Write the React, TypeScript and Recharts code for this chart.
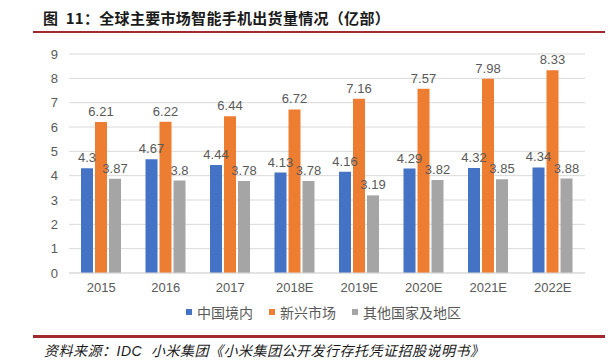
import { BarChart, Bar, XAxis, YAxis, CartesianGrid, LabelList } from "recharts";

const YEARS = ["2015", "2016", "2017", "2018E", "2019E", "2020E", "2021E", "2022E"];
const CHINA = [4.3, 4.67, 4.44, 4.13, 4.16, 4.29, 4.32, 4.34];
const EMERGING = [6.21, 6.22, 6.44, 6.72, 7.16, 7.57, 7.98, 8.33];
const OTHERS = [3.87, 3.8, 3.78, 3.78, 3.19, 3.82, 3.85, 3.88];
const Y_TICKS = [0, 1, 2, 3, 4, 5, 6, 7, 8, 9];

const SERIES = [
  { key: "china", name: "中国境内", color: "#4472C4" },
  { key: "emerging", name: "新兴市场", color: "#ED7D31" },
  { key: "others", name: "其他国家及地区", color: "#A5A5A5" },
];

const chartData = YEARS.map((year, i) => ({
  year,
  china: CHINA[i],
  emerging: EMERGING[i],
  others: OTHERS[i],
}));

const TEXT_GRAY = "#595959";
const RULE_RED = "#A2292D";
const LABEL_FONT = "'Liberation Sans', Arial, sans-serif";
const CJK_FONT = "'Noto Sans CJK SC', 'Noto Sans', sans-serif";

export default function App() {
  return (
    <div
      style={{
        position: "fixed",
        top: 0,
        left: 0,
        width: 614,
        height: 364,
        background: "#fff",
        overflow: "hidden",
      }}
    >
      {/* title */}
      <div
        style={{
          position: "absolute",
          left: 43,
          top: 7,
          fontFamily: CJK_FONT,
          fontWeight: 700,
          fontSize: 15,
          letterSpacing: 0.3,
          lineHeight: "22px",
          color: "#1a1a1a",
          whiteSpace: "nowrap",
        }}
      >
        图&nbsp;&nbsp;11：全球主要市场智能手机出货量情况（亿部）
      </div>
      <div style={{ position: "absolute", left: 33, top: 31, width: 572, height: 2, background: RULE_RED }} />

      <div style={{ position: "absolute", left: 0, top: 0 }}>
        <BarChart
          width={614}
          height={300}
          data={chartData}
          margin={{ top: 54, right: 29, left: 0, bottom: 0 }}
          barSize={12}
          barGap={2}
        >
          <CartesianGrid vertical={false} stroke="#D9D9D9" />
          <XAxis
            dataKey="year"
            height={27}
            axisLine={{ stroke: "#D9D9D9" }}
            tickLine={false}
            tickMargin={4}
            tick={{ fill: TEXT_GRAY, fontSize: 13, fontFamily: LABEL_FONT }}
          />
          <YAxis
            width={69}
            domain={[0, 9]}
            ticks={Y_TICKS}
            axisLine={false}
            tickLine={false}
            tickMargin={5}
            tick={{ fill: TEXT_GRAY, fontSize: 13, fontFamily: LABEL_FONT }}
          />
          {SERIES.map((s) => (
            <Bar key={s.key} dataKey={s.key} name={s.name} fill={s.color} isAnimationActive={false}>
              <LabelList
                dataKey={s.key}
                position="top"
                offset={6}
                fill={TEXT_GRAY}
                fontSize={13}
                fontFamily={LABEL_FONT}
              />
            </Bar>
          ))}
        </BarChart>
      </div>

      {/* legend */}
      <div
        style={{
          position: "absolute",
          left: 186,
          top: 302,
          display: "flex",
          alignItems: "center",
          fontFamily: CJK_FONT,
          fontSize: 14,
          lineHeight: "20px",
          color: TEXT_GRAY,
          whiteSpace: "nowrap",
        }}
      >
        {SERIES.map((s, i) => (
          <div key={s.key} style={{ display: "flex", alignItems: "center", marginLeft: i === 0 ? 0 : 16 }}>
            <span style={{ display: "inline-block", width: 6, height: 6, background: s.color, marginRight: 5 }} />
            {s.name}
          </div>
        ))}
      </div>

      <div style={{ position: "absolute", left: 33, top: 335, width: 572, height: 3, background: RULE_RED }} />
      {/* source */}
      <div
        style={{
          position: "absolute",
          left: 44,
          top: 342,
          fontFamily: "'Liberation Sans', 'Noto Sans CJK SC', sans-serif",
          fontStyle: "italic",
          fontSize: 14,
          letterSpacing: 0.5,
          lineHeight: "19px",
          color: "#1a1a1a",
          whiteSpace: "nowrap",
        }}
      >
        资料来源：IDC&nbsp;&nbsp;小米集团《小米集团公开发行存托凭证招股说明书》
      </div>
    </div>
  );
}
